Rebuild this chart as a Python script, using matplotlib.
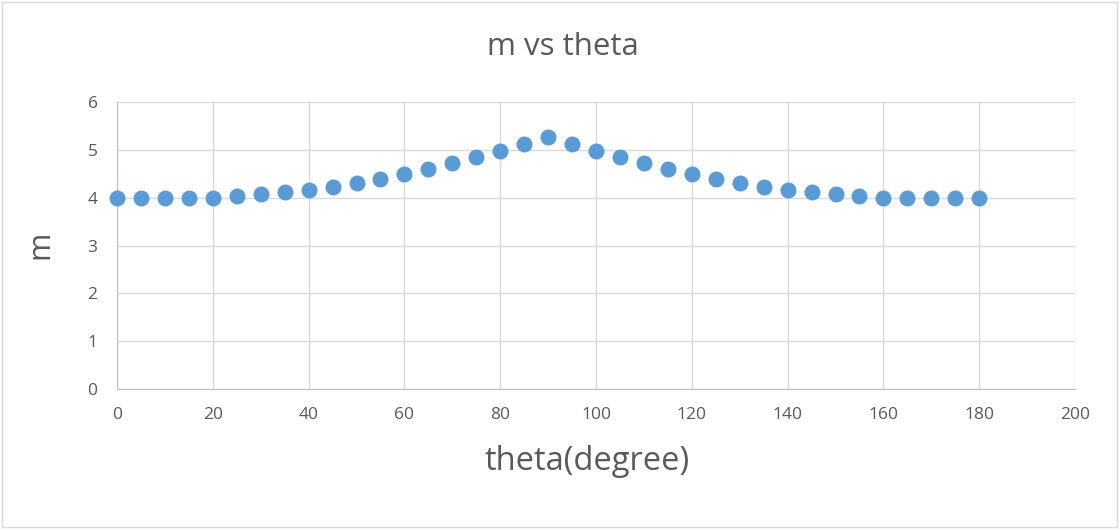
import matplotlib
matplotlib.use("Agg")
import matplotlib.pyplot as plt
from matplotlib.patches import Rectangle

plt.rcParams['font.family'] = ['Open Sans', 'DejaVu Sans']

theta = [0, 5, 10, 15, 20, 25, 30, 35, 40, 45, 50, 55, 60, 65, 70, 75, 80, 85, 90,
         95, 100, 105, 110, 115, 120, 125, 130, 135, 140, 145, 150, 155, 160, 165, 170, 175, 180]
m = [4.00, 3.99, 3.99, 3.99, 4.00, 4.03, 4.07, 4.11, 4.17, 4.23, 4.31, 4.39, 4.49, 4.60, 4.72, 4.84, 4.98, 5.12, 5.27,
     5.12, 4.98, 4.84, 4.72, 4.60, 4.49, 4.39, 4.31, 4.23, 4.17, 4.11, 4.07, 4.03, 4.00, 3.99, 3.99, 3.99, 4.00]

x_ticks = list(range(0, 201, 20))
y_ticks = list(range(0, 7))

W, H = 1120, 529
fig = plt.figure(figsize=(W / 100, H / 100), dpi=100)
fig.patches.append(Rectangle((0.002, 0.004), 0.995, 0.993, transform=fig.transFigure,
                             fill=False, edgecolor='#D9D9D9', linewidth=1))

ax = fig.add_axes([117 / W, 1 - 389 / H, (1075 - 117) / W, (389 - 102) / H])
ax.plot(theta, m, linestyle='none', marker='o', markersize=10.5,
        markerfacecolor='#5B9BD5', markeredgecolor='#5B9BD5', zorder=3, clip_on=False)

ax.set_xlim(0, 200)
ax.set_ylim(0, 6)
ax.set_xticks(x_ticks)
ax.set_yticks(y_ticks)
ax.grid(True, color='#D9D9D9', linewidth=1)
ax.set_axisbelow(True)
for side in ('top', 'right'):
    ax.spines[side].set_visible(False)
for side in ('left', 'bottom'):
    ax.spines[side].set_color('#BFBFBF')
ax.tick_params(length=0, labelsize=12.5, colors='#595959')
ax.tick_params(axis='x', pad=13)
ax.tick_params(axis='y', pad=14)

text_color = '#595959'
fig.text(563 / W, 1 - 47 / H, 'm vs theta', fontsize=22.5, color=text_color,
         ha='center', va='center')
fig.text(587 / W, 1 - 461 / H, 'theta(degree)', fontsize=23.5, color=text_color,
         ha='center', va='center')
fig.text(40 / W, 1 - 245 / H, 'm', fontsize=22, color=text_color,
         ha='center', va='center', rotation=90)

fig.savefig('out.png', dpi=100)
